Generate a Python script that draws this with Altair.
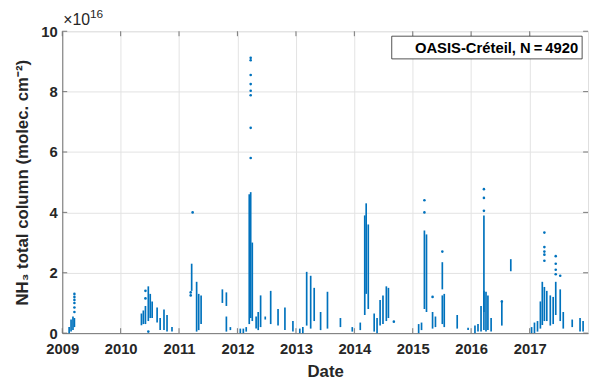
import altair as alt
import pandas as pd

# Vertical streaks of dense daily retrievals: date, lowest value, highest value (x1e16 molec/cm2)
streak_dates = [
    "2009-02-13", "2009-02-25", "2009-03-09", "2009-03-18",
    "2010-05-11", "2010-05-23", "2010-06-05", "2010-06-23", "2010-07-05", "2010-07-17",
    "2010-08-17", "2010-09-05", "2010-09-29", "2010-10-18", "2010-11-18",
    "2011-03-21", "2011-04-21", "2011-05-04", "2011-05-19", "2011-09-29", "2011-10-24",
    "2011-10-24", "2011-11-18",
    "2012-01-19", "2012-02-07", "2012-02-25", "2012-03-15", "2012-03-24", "2012-04-03",
    "2012-04-27", "2012-05-10", "2012-05-25", "2012-06-23", "2012-07-27", "2012-09-11",
    "2012-10-24", "2012-12-13",
    "2013-01-25", "2013-02-13", "2013-03-09", "2013-04-03", "2013-04-25", "2013-06-04",
    "2013-07-17", "2013-10-06", "2013-12-19",
    "2014-02-07", "2014-03-07", "2014-03-16", "2014-03-29", "2014-05-05", "2014-05-23",
    "2014-06-11", "2014-06-29", "2014-07-20", "2014-08-02",
    "2015-02-07", "2015-02-25", "2015-03-15", "2015-03-28", "2015-05-05", "2015-05-23",
    "2015-07-05", "2015-07-05", "2015-07-17", "2015-10-06", "2015-12-13",
    "2016-01-25", "2016-02-13", "2016-03-03", "2016-03-21", "2016-03-21", "2016-04-03",
    "2016-04-15", "2016-05-05", "2016-07-11", "2016-09-05",
    "2017-01-13", "2017-01-31", "2017-02-19", "2017-03-09", "2017-03-21", "2017-04-03",
    "2017-04-18", "2017-05-10", "2017-05-28", "2017-06-13", "2017-07-11", "2017-07-30",
    "2017-09-24", "2017-11-12", "2017-12-01",
]
streak_lo = [
    0.0, 0.05, 0.1, 0.2,
    0.26, 0.3, 0.3, 0.4, 0.5, 0.5,
    0.35, 0.1, 0.1, 0.05, 0.05,
    1.4, 0.05, 0.1, 0.3, 1.0, 0.05,
    0.9, 0.1,
    0.0, 0.0, 0.05, 0.3, 0.5, 0.4,
    0.15, 0.1, 0.2, 0.45, 0.3, 0.25,
    0.1, 0.05,
    0.0, 0.0, 0.25, 0.15, 0.4, 0.1,
    0.15, 0.2, 0.05,
    0.1, 0.6, 1.3, 0.8, 0.05, 0.0,
    0.25, 0.3, 0.4, 0.5,
    0.0, 0.1, 0.8, 0.7, 0.15, 0.2,
    1.45, 0.3, 0.2, 0.15, 0.1,
    0.0, 0.05, 0.05, 0.7, 0.1, 0.05,
    0.1, 0.05, 0.25, 2.05,
    0.0, 0.0, 0.05, 0.15, 0.27, 0.4,
    0.4, 0.25, 0.3, 0.6, 0.4, 0.15,
    0.2, 0.05, 0.05,
]
streak_hi = [
    0.2, 0.45, 0.55, 0.5,
    0.65, 0.75, 0.9, 1.55, 1.3, 1.05,
    0.85, 0.5, 0.78, 0.6, 0.2,
    2.3, 1.7, 1.3, 1.25, 1.45, 0.55,
    1.35, 0.2,
    0.15, 0.15, 0.2, 4.6, 4.67, 3.0,
    0.55, 0.7, 1.25, 0.55, 1.4, 0.8,
    0.85, 0.4,
    0.15, 0.2, 2.03, 1.9, 1.5, 0.7,
    1.37, 0.5, 0.2,
    0.35, 3.9, 4.3, 3.6, 0.65, 0.5,
    1.1, 1.25, 1.55, 1.5,
    0.3, 0.35, 3.4, 3.27, 0.7, 0.55,
    2.35, 1.25, 1.3, 0.6, 0.18,
    0.25, 0.3, 0.9, 1.4, 3.9, 1.37,
    1.25, 0.5, 1.08, 2.45,
    0.2, 0.35, 0.4, 1.05, 1.7, 1.53,
    1.4, 1.25, 1.2, 1.7, 1.45, 0.7,
    0.45, 0.5, 0.4,
]

# Isolated retrievals
point_dates = [
    "2009-03-18", "2009-03-18", "2009-03-18", "2009-03-18", "2009-03-18", "2009-03-18",
    "2010-06-05", "2010-06-05", "2010-06-23",
    "2011-03-27", "2011-03-15", "2011-03-15",
    "2012-03-24", "2012-03-24", "2012-03-24", "2012-03-24", "2012-03-24", "2012-03-24",
    "2012-03-24", "2012-03-24",
    "2014-09-05",
    "2015-03-15", "2015-03-15", "2015-05-05", "2015-07-05",
    "2016-03-21", "2016-03-21", "2016-03-21", "2016-07-11",
    "2017-04-03", "2017-04-03", "2017-04-03", "2017-04-03", "2017-04-03",
    "2017-06-13", "2017-06-13", "2017-06-13", "2017-06-13", "2017-07-11",
]
point_vals = [
    0.7, 0.85, 1.0, 1.1, 1.2, 1.3,
    1.15, 1.4, 0.05,
    4.0, 1.25, 1.35,
    5.8, 6.8, 7.88, 8.03, 8.25, 8.55, 9.04, 9.12,
    0.38,
    4.0, 4.4, 1.2, 2.7,
    4.05, 4.48, 4.77, 1.05,
    2.4, 2.6, 2.7, 2.85, 3.33,
    1.95, 2.1, 2.3, 2.55, 1.9,
]

year_ticks = [2009, 2010, 2011, 2012, 2013, 2014, 2015, 2016, 2017]
y_ticks = [0, 2, 4, 6, 8, 10]

BLUE = "#0072BD"
FONT = "Liberation Sans"
AX = "#777777"

streaks = pd.DataFrame({"date": streak_dates, "lo": streak_lo, "hi": streak_hi})
points = pd.DataFrame({"date": point_dates, "val": point_vals})
yt = pd.DataFrame({"date": [f"{y}-01-01" for y in year_ticks]})
vt = pd.DataFrame({"v": y_ticks})

x_scale = alt.Scale(domain=[alt.DateTime(year=2009, month=1, date=1),
                            alt.DateTime(year=2018, month=1, date=1)])
y_scale = alt.Scale(domain=[0, 10])

x_axis = alt.Axis(
    title="Date", format="%Y",
    values=[alt.DateTime(year=y, month=1, date=1) for y in year_ticks],
    labelFont=FONT, labelFontSize=15, labelFontWeight="bold", labelColor="#262626",
    titleFont=FONT, titleFontSize=17, titleFontWeight="bold", titleColor="#262626",
    labelPadding=9, titlePadding=7, tickSize=0, domainColor=AX,
    gridColor="#e3e3e3", labelFlush=False,
)
y_axis = alt.Axis(
    title="NH₃ total column (molec. cm⁻²)", values=y_ticks,
    labelFont=FONT, labelFontSize=15, labelFontWeight="bold", labelColor="#262626",
    titleFont=FONT, titleFontSize=17, titleFontWeight="bold", titleColor="#262626",
    labelPadding=5, titlePadding=10, tickSize=0, domainColor=AX,
    gridColor="#e3e3e3",
)

rules = alt.Chart(streaks).mark_rule(color=BLUE, strokeWidth=1.7).encode(
    x=alt.X("date:T", scale=x_scale, axis=x_axis),
    y=alt.Y("lo:Q", scale=y_scale, axis=y_axis),
    y2="hi:Q",
)
dots = alt.Chart(points).mark_circle(color=BLUE, size=7, opacity=1).encode(
    x=alt.X("date:T", scale=x_scale),
    y=alt.Y("val:Q", scale=y_scale),
)

# inward ticks (MATLAB box style)
xt_bot = alt.Chart(yt).mark_rule(color=AX, strokeWidth=1).encode(
    x=alt.X("date:T", scale=x_scale), y=alt.value(301), y2=alt.value(306))
xt_top = alt.Chart(yt).mark_rule(color=AX, strokeWidth=1).encode(
    x=alt.X("date:T", scale=x_scale), y=alt.value(0), y2=alt.value(5))
yt_left = alt.Chart(vt).mark_rule(color=AX, strokeWidth=1).encode(
    y=alt.Y("v:Q", scale=y_scale), x=alt.value(0), x2=alt.value(5))
yt_right = alt.Chart(vt).mark_rule(color=AX, strokeWidth=1).encode(
    y=alt.Y("v:Q", scale=y_scale), x=alt.value(528), x2=alt.value(533))

expo = alt.Chart(pd.DataFrame({"t": ["×10"]})).mark_text(
    font=FONT, fontSize=16, align="left", baseline="alphabetic", color="#262626"
).encode(x=alt.value(1), y=alt.value(-6), text="t:N")
expo2 = alt.Chart(pd.DataFrame({"t": ["16"]})).mark_text(
    font=FONT, fontSize=12, align="left", baseline="alphabetic", color="#262626"
).encode(x=alt.value(28), y=alt.value(-13), text="t:N")

box = alt.Chart(pd.DataFrame({"a": [1]})).mark_rect(
    fill="white", stroke="#262626", strokeWidth=0.8
).encode(x=alt.value(334), x2=alt.value(527), y=alt.value(5), y2=alt.value(28))
label = alt.Chart(pd.DataFrame({"t": ["OASIS-Créteil, N\u2009=\u20094920"]})).mark_text(
    font=FONT, fontSize=15, fontWeight="bold", align="right", baseline="middle", color="#000000"
).encode(x=alt.value(523), y=alt.value(17), text="t:N")

chart = alt.layer(rules, dots, xt_bot, xt_top, yt_left, yt_right, box, label, expo, expo2).properties(
    width=533, height=306,
    autosize=alt.AutoSizeParams(type="none"),
    padding={"left": 55, "top": 21, "right": 4, "bottom": 50},
).configure_view(stroke=AX, strokeWidth=1).configure(background="white")

chart.save("out.html", embed_options={"renderer": "svg", "actions": False})
